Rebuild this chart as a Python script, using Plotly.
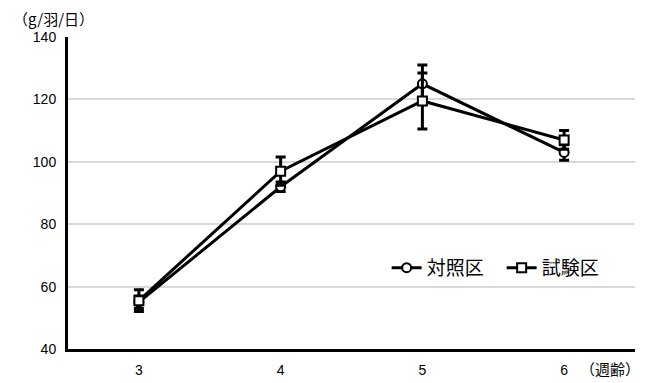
import plotly.graph_objects as go

weeks = ["3", "4", "5", "6"]
control = [55.0, 92.0, 125.0, 103.0]
control_err = [2.0, 1.5, 6.0, 2.5]
trial = [55.5, 97.0, 119.5, 107.0]
trial_err = [3.5, 4.5, 9.0, 3.0]
series_names = ["対照区", "試験区"]
y_ticks = [40, 60, 80, 100, 120, 140]

fig = go.Figure()
fig.add_trace(go.Scatter(
    x=weeks, y=control, name=series_names[0], mode="lines+markers",
    line=dict(color="black", width=3),
    marker=dict(symbol="circle", size=9, color="white", line=dict(color="black", width=2)),
    error_y=dict(type="data", array=control_err, color="black", thickness=3, width=5),
))
fig.add_trace(go.Scatter(
    x=weeks, y=trial, name=series_names[1], mode="lines+markers",
    line=dict(color="black", width=3),
    marker=dict(symbol="square", size=9, color="white", line=dict(color="black", width=2)),
    error_y=dict(type="data", array=trial_err, color="black", thickness=3, width=5),
))

# page body has an 8px margin, so figure is 643x375 placed at (8, 8)
fig.update_layout(
    width=643, height=375,
    margin=dict(l=60, r=16, t=29, b=34, autoexpand=False),
    paper_bgcolor="white", plot_bgcolor="white",
    font=dict(family="Liberation Sans, Arial, sans-serif", size=14, color="black"),
    showlegend=True,
    legend=dict(orientation="h", x=0.562, y=0.26, xanchor="left", yanchor="middle",
                font=dict(family="Noto Sans CJK JP", size=19), bgcolor="rgba(0,0,0,0)",
                itemwidth=30, traceorder="normal", entrywidth=70, entrywidthmode="pixels"),
    xaxis=dict(type="category", range=[-0.5, 3.5], showline=True, linecolor="black",
               linewidth=3, ticks="", showgrid=False, tickfont=dict(size=14),
               automargin=False, ticklabelstandoff=6),
    yaxis=dict(range=[40, 140], tickvals=y_ticks, showline=True, linecolor="black",
               linewidth=3, ticks="", showgrid=True, gridcolor="#d9d9d9", gridwidth=1.5,
               zeroline=False, tickfont=dict(size=14), automargin=False,
               ticklabelstandoff=6),
    annotations=[
        dict(text="（g/羽/日）", xref="paper", yref="paper", x=-0.1, y=1.018,
             xanchor="left", yanchor="bottom", showarrow=False,
             font=dict(family="Noto Sans CJK JP", size=15)),
        dict(text="（週齢）", xref="paper", yref="paper", x=1.013, y=-0.064,
             xanchor="right", yanchor="middle", showarrow=False,
             font=dict(family="Noto Sans CJK JP", size=15)),
    ],
)

fig.write_html("out.html")
